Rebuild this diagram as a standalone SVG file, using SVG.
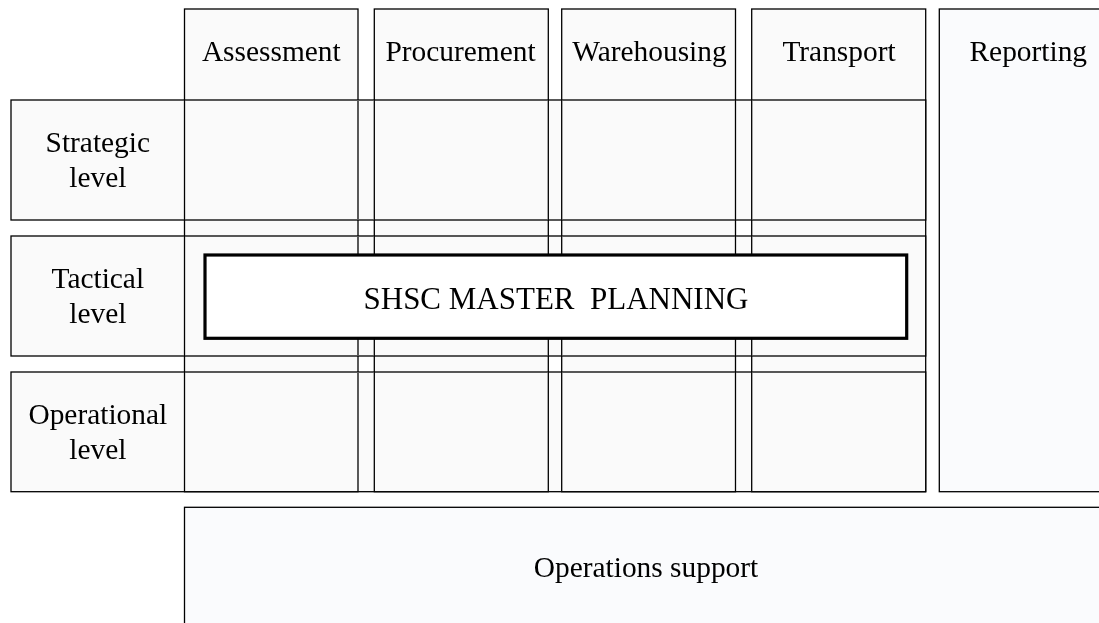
<svg xmlns="http://www.w3.org/2000/svg" width="1099" height="623" viewBox="0 0 1099 623">
<style>
  .cell { fill: #fafafa; stroke: #000; stroke-width: 1.3; mix-blend-mode: darken; }
  .side { fill: #fafbfd; stroke: #000; stroke-width: 1.3; }
  .main { fill: #ffffff; stroke: #000; stroke-width: 3.2; }
  text { font-family: "Liberation Serif", "Times New Roman", serif; font-size: 29.4px; fill: #000; text-anchor: middle; }
  .big { font-size: 31px; white-space: pre; }
</style>
<rect width="1099" height="623" fill="#ffffff"/>
<g id="connectors"></g>
<g id="col-assessment">
  <rect class="cell" x="184.5" y="9" width="173.5" height="482.7"/>
  <text x="271.3" y="61">Assessment</text>
</g>
<g id="col-procurement">
  <rect class="cell" x="374.3" y="9" width="174" height="482.7"/>
  <text x="460.5" y="61">Procurement</text>
</g>
<g id="col-warehousing">
  <rect class="cell" x="561.7" y="9" width="173.8" height="482.7"/>
  <text x="649.5" y="61">Warehousing</text>
</g>
<g id="col-transport">
  <rect class="cell" x="751.7" y="9" width="174" height="482.7"/>
  <text x="839" y="61">Transport</text>
</g>
<g id="reporting">
  <rect class="side" x="939.3" y="9" width="190" height="482.7"/>
  <text x="1028.3" y="61">Reporting</text>
</g>
<g id="row-strategic">
  <rect class="cell" x="11" y="100" width="914.7" height="120"/>
  <text x="97.8" y="152">Strategic</text>
  <text x="97.8" y="187">level</text>
</g>
<g id="row-tactical">
  <rect class="cell" x="11" y="236" width="914.7" height="120"/>
  <text x="97.8" y="287.5">Tactical</text>
  <text x="97.8" y="323">level</text>
</g>
<g id="row-operational">
  <rect class="cell" x="11" y="372" width="914.7" height="119.7"/>
  <text x="97.8" y="423.5">Operational</text>
  <text x="97.8" y="459">level</text>
</g>
<g id="master-planning">
  <rect class="main" x="205" y="255" width="701.7" height="83.3"/>
  <text class="big" x="556" y="309.3" xml:space="preserve">SHSC MASTER  PLANNING</text>
</g>
<g id="operations-support">
  <rect class="side" x="184.5" y="507.3" width="930" height="140"/>
  <text x="646" y="577.3">Operations support</text>
</g>
</svg>
